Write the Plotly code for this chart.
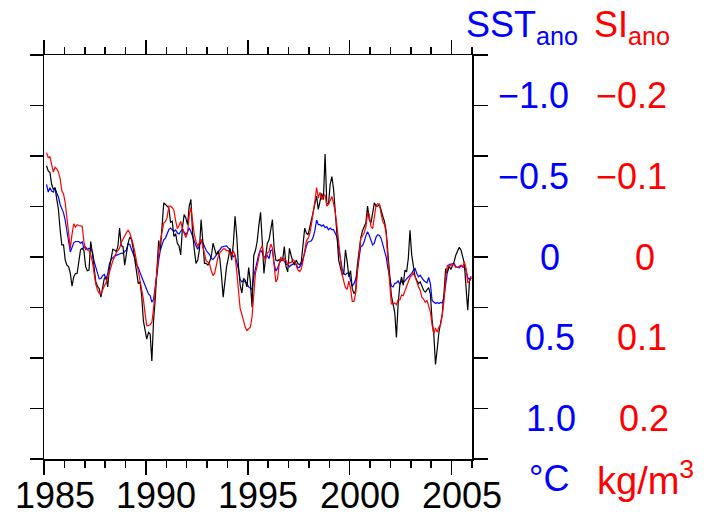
import numpy as np
import plotly.graph_objects as go

# ---------------- data ----------------
start_year = 1985.125          # first monthly sample (mid Feb 1985)
n_months = 251
time = start_year + np.arange(n_months) / 12.0

# SST anomaly (degC), plotted on inverted axis
sst_ano = [
    -0.450, -0.402, -0.429, -0.408, -0.402, -0.427, -0.396, -0.371, -0.325, -0.300,
    -0.273, -0.227, -0.173, -0.096, -0.031, -0.060, -0.088, -0.096, -0.096, -0.096,
    -0.085, -0.094, -0.054, -0.063, -0.046, -0.054, -0.048, -0.033, 0.027, 0.069,
    0.108, 0.135, 0.133, 0.115, 0.108, 0.138, 0.104, 0.044, 0.015, 0.004,
    -0.004, -0.010, -0.015, -0.021, -0.023, -0.023, -0.031, -0.044, -0.081, -0.077,
    -0.048, -0.021, 0.008, 0.048, 0.065, 0.096, 0.123, 0.148, 0.179, 0.208,
    0.229, 0.238,
    0.279, 0.263, 0.196, 0.108, 0.023, -0.042, -0.075, -0.106, -0.117, -0.148,
    -0.169, -0.179, -0.169, -0.158, -0.167, -0.148, -0.142, -0.163, -0.175, -0.154,
    -0.140, -0.156, -0.179, -0.158, -0.123, -0.098, -0.069, -0.048, -0.079, -0.096,
    -0.090, -0.060, -0.040, -0.027, -0.015, 0.010, 0.015, 0.002, -0.015, -0.029,
    -0.044, -0.060, -0.065, -0.065, -0.069, -0.056, -0.046, -0.019, -0.002, -0.010,
    0.033, 0.077, 0.140, 0.154, 0.144, 0.154, 0.165, 0.185, 0.196, 0.202,
    0.120, 0.073, 0.031, -0.019, -0.042, -0.027, -0.002, 0.002, -0.008, 0.010,
    -0.040, -0.044, 0.040, 0.088, 0.069, 0.044, 0.015, 0.008, 0.031, 0.046,
    0.044, 0.060, 0.050, 0.046, 0.035, 0.044, 0.067, 0.063, 0.046, 0.015,
    -0.025, -0.069, -0.094, -0.096, -0.100, -0.123, -0.165, -0.229, -0.200, -0.200,
    -0.190, -0.198, -0.181, -0.188, -0.169, -0.179, -0.169, -0.169, -0.148, -0.123,
    -0.056, 0.021, 0.071, 0.104, 0.110, 0.100, 0.098, 0.144, 0.181, 0.165,
    0.138, 0.080,
    0.000, -0.065, -0.069, -0.094, -0.131, -0.156, -0.135, -0.104, -0.075, -0.085,
    -0.123, -0.138, -0.133, -0.115, -0.081, -0.040, 0.002, 0.071, 0.140, 0.179,
    0.185, 0.163, 0.160, 0.148, 0.169, 0.150, 0.160, 0.146, 0.135, 0.123,
    0.113, 0.102, 0.081, 0.071, 0.102, 0.123, 0.113, 0.133, 0.144, 0.154,
    0.160, 0.127, 0.165, 0.269, 0.279, 0.288, 0.281, 0.288, 0.281, 0.285,
    0.248, 0.150, 0.092, 0.046, 0.044, 0.044, 0.040, 0.060, 0.065, 0.067,
    0.056, 0.056, 0.067, 0.081, 0.127, 0.140, 0.119,
]

# third (black) series, on the SST scale
black_ano = [
    -0.565, -0.533, -0.523, -0.450, -0.419, -0.429, -0.360, -0.294, -0.169, -0.075,
    -0.075, 0.019, 0.050, 0.060, 0.102, 0.181, 0.123, 0.102, 0.102, 0.040,
    -0.044, -0.054, -0.040, 0.060, 0.085, 0.081, -0.096, -0.023, 0.081, 0.154,
    0.181, 0.196, 0.248, 0.175, 0.133, 0.123, 0.185, 0.071, 0.008, -0.048,
    -0.044, -0.033, -0.065, -0.179, -0.069, -0.065, 0.050, -0.023, -0.085, -0.123,
    -0.110, -0.054, 0.019, 0.085, 0.165, 0.154, 0.238, 0.394, 0.467, 0.508,
    0.467, 0.477,
    0.644, 0.394, 0.258, 0.071, -0.102, -0.044, -0.190, -0.335, -0.325, -0.315,
    -0.304, -0.215, -0.221, -0.127, -0.144, -0.085, -0.069, -0.013, -0.179, -0.263,
    -0.242, -0.200, -0.315, -0.356, -0.148, -0.044, 0.040, 0.019, -0.044, -0.231,
    -0.096, 0.040, 0.040, 0.050, 0.029, -0.002, -0.085, -0.044, -0.013, -0.038,
    0.008, 0.113, 0.248, 0.154, 0.060, 0.008, -0.054, 0.019, -0.085, -0.252,
    -0.127, 0.056, 0.175, 0.223, 0.133, 0.144, 0.185, 0.065, 0.154, 0.310,
    -0.010, -0.040, -0.096, -0.194, -0.277, -0.096, 0.102, -0.002, -0.085, -0.106,
    -0.169, -0.231, -0.054, 0.019, 0.023, 0.015, 0.023, 0.019, -0.065, 0.060,
    0.092, -0.054, -0.010, 0.029, 0.050, 0.019, 0.042, 0.048, 0.029, -0.065,
    -0.179, -0.148, -0.138, -0.185, -0.227, -0.279, -0.331, -0.377, -0.294, -0.356,
    -0.394, -0.356, -0.638, -0.335, -0.325, -0.450, -0.498, -0.419, -0.294, -0.138,
    0.019, 0.060, 0.106, 0.102, -0.044, 0.029, 0.123, 0.085, 0.196, 0.227,
    0.206, 0.050,
    -0.044, -0.117, -0.163, -0.185, -0.210, -0.315, -0.231, -0.210, -0.263, -0.335,
    -0.315, -0.315, -0.325, -0.283, -0.252, -0.219, -0.158, -0.023, 0.123, 0.238,
    0.290, 0.342, 0.498, 0.290, 0.175, 0.123, 0.175, 0.081, 0.092, 0.008,
    -0.165, -0.013, 0.056, 0.123, 0.144, 0.165, 0.154, 0.185, 0.206, 0.217,
    0.206, 0.190, 0.231, 0.394, 0.477, 0.665, 0.571, 0.467, 0.410, 0.352,
    0.227, 0.071, 0.098, 0.056, 0.077, 0.056, 0.029, -0.013, -0.033, -0.060,
    -0.044, 0.008, 0.040, 0.190, 0.330, 0.150, 0.130,
]

# SI anomaly (kg/m3), plotted on inverted right axis
si_ano = [
    -0.129, -0.123, -0.124, -0.115, -0.105, -0.111, -0.109, -0.105, -0.097, -0.082,
    -0.078, -0.067, -0.050, -0.028, -0.011, -0.028, -0.041, -0.037, -0.040, -0.039,
    -0.038, -0.038, -0.019, -0.009, -0.009, -0.008, -0.003, 0.006, 0.020, 0.034,
    0.041, 0.045, 0.046, 0.040, 0.036, 0.032, 0.026, 0.019, 0.012, 0.005,
    -0.001, -0.005, -0.008, -0.011, -0.018, -0.023, -0.026, -0.030, -0.033, -0.030,
    -0.024, -0.016, -0.006, 0.005, 0.017, 0.030, 0.041, 0.052, 0.070, 0.085,
    0.085, 0.084,
    0.081, 0.064, 0.039, 0.013, -0.004, -0.020, -0.034, -0.042, -0.044, -0.049,
    -0.063, -0.063, -0.061, -0.058, -0.045, -0.035, -0.039, -0.044, -0.035, -0.028,
    -0.024, -0.030, -0.051, -0.061, -0.042, -0.028, -0.019, -0.013, -0.018, -0.022,
    -0.013, -0.003, 0.005, 0.006, 0.009, 0.017, 0.023, 0.020, 0.010, 0.000,
    -0.005, -0.008, -0.010, -0.010, -0.008, -0.008, -0.005, -0.001, -0.008, -0.001,
    0.018, 0.040, 0.064, 0.071, 0.079, 0.087, 0.091, 0.089, 0.087, 0.074,
    0.050, 0.020, 0.011, 0.002, -0.010, -0.014, 0.002, 0.003, -0.005, -0.007,
    -0.016, -0.011, 0.014, 0.031, 0.027, 0.008, 0.000, 0.005, 0.002, 0.004,
    0.010, 0.007, 0.007, 0.003, 0.005, 0.012, 0.016, 0.018, 0.015, 0.005,
    -0.007, -0.020, -0.023, -0.029, -0.041, -0.054, -0.069, -0.086, -0.073, -0.080,
    -0.071, -0.075, -0.077, -0.063, -0.065, -0.070, -0.075, -0.066, -0.055, -0.038,
    -0.016, 0.005, 0.021, 0.030, 0.038, 0.040, 0.030, 0.039, 0.055, 0.055,
    0.045, 0.020,
    -0.003, -0.023, -0.026, -0.030, -0.037, -0.054, -0.053, -0.038, -0.035, -0.053,
    -0.064, -0.066, -0.065, -0.053, -0.044, -0.040, -0.028, 0.004, 0.035, 0.058,
    0.058, 0.057, 0.059, 0.053, 0.053, 0.047, 0.048, 0.042, 0.038, 0.031,
    0.025, 0.023, 0.020, 0.024, 0.032, 0.037, 0.041, 0.050, 0.052, 0.056,
    0.054, 0.062, 0.068, 0.084, 0.095, 0.088, 0.093, 0.087, 0.084, 0.072,
    0.054, 0.025, 0.010, 0.012, 0.011, 0.009, 0.010, 0.013, 0.013, 0.012,
    0.010, 0.013, 0.006, 0.014, 0.032, 0.030, 0.025,
]

year_labels = [1985, 1990, 1995, 2000, 2005]
sst_labels = [-1.0, -0.5, 0.0, 0.5, 1.0]
sst_label_text = ["\u22121.0", "\u22120.5", "0", "0.5", "1.0"]
si_labels = [-0.2, -0.1, 0.0, 0.1, 0.2]
si_label_text = ["\u22120.2", "\u22120.1", "0", "0.1", "0.2"]

# ---------------- style ----------------
FONT = "Liberation Sans"
FS = 36
BLUE = "#0000ff"
RED = "#ff0000"
SST_MAX = 1.25
SI_MAX = 0.25

fig = go.Figure()
fig.add_trace(go.Scatter(x=time, y=si_ano, mode="lines", yaxis="y2",
                         line=dict(color=RED, width=1.2), showlegend=False,
                         hoverinfo="skip"))
fig.add_trace(go.Scatter(x=time, y=sst_ano, mode="lines",
                         line=dict(color=BLUE, width=1.2), showlegend=False,
                         hoverinfo="skip"))
fig.add_trace(go.Scatter(x=time, y=black_ano, mode="lines",
                         line=dict(color="black", width=1.2), showlegend=False,
                         hoverinfo="skip"))
# empty trace that makes the top (mirror) time axis render
fig.add_trace(go.Scatter(x=[1985, 2006], y=[None, None], xaxis="x2",
                         mode="lines", showlegend=False, hoverinfo="skip"))

xaxis_common = dict(
    range=[1985, 2006], showgrid=False, zeroline=False, showline=True,
    linecolor="black", linewidth=1.5, ticks="outside", tick0=1985, dtick=5,
    ticklen=14, tickwidth=1.5, tickcolor="black", showticklabels=False,
    minor=dict(tick0=1985, dtick=1, ticks="outside", ticklen=7, tickwidth=1.5,
               tickcolor="black", showgrid=False),
)

fig.update_layout(
    width=723, height=521,
    margin=dict(l=44, r=251, t=55, b=62, autoexpand=False),
    paper_bgcolor="white", plot_bgcolor="white",
    xaxis=dict(**xaxis_common, side="bottom"),
    xaxis2=dict(**xaxis_common, side="top", overlaying="x", anchor="y"),
    yaxis=dict(range=[SST_MAX, -SST_MAX], showgrid=False, zeroline=False,
               showline=True, linecolor="black", linewidth=1.5,
               ticks="outside", tickvals=list(np.linspace(-SST_MAX, SST_MAX, 9)),
               ticklen=13, tickwidth=1.5, tickcolor="black",
               showticklabels=False),
    yaxis2=dict(range=[SI_MAX, -SI_MAX], overlaying="y", side="right",
                anchor="x", showgrid=False, zeroline=False, showline=True,
                linecolor="black", linewidth=1.5, ticks="outside",
                tickvals=list(np.linspace(-SI_MAX, SI_MAX, 9)),
                ticklen=14, tickwidth=1.5, tickcolor="black",
                showticklabels=False),
    font=dict(family=FONT, size=FS, color="black"),
)

ann = []
for yr in year_labels:
    ann.append(dict(x=yr, y=0, xref="x", yref="paper", text=str(yr),
                    showarrow=False, xanchor="center", yanchor="middle",
                    xshift=10.5, yshift=-36, font=dict(size=FS, color="black")))
sst_xshift = [61, 61, 78, 78, 79]
for v, t, xs in zip(sst_labels, sst_label_text, sst_xshift):
    ann.append(dict(x=1, y=v, xref="paper", yref="y", text=t, showarrow=False,
                    xanchor="center", yanchor="middle", xshift=xs, yshift=0,
                    font=dict(size=FS, color=BLUE)))
si_xshift = [159, 159, 173, 170, 172]
for v, t, xs in zip(si_labels, si_label_text, si_xshift):
    ann.append(dict(x=1, y=v, xref="paper", yref="y2", text=t, showarrow=False,
                    xanchor="center", yanchor="middle", xshift=xs, yshift=0,
                    font=dict(size=FS, color=RED)))
# titles
ann.append(dict(x=1, y=1, xref="paper", yref="paper", text="SST<sub>ano</sub>",
                showarrow=False, xanchor="right", yanchor="middle",
                xshift=108, yshift=28, font=dict(size=FS, color=BLUE)))
ann.append(dict(x=1, y=1, xref="paper", yref="paper", text="SI<sub>ano</sub>",
                showarrow=False, xanchor="left", yanchor="middle",
                xshift=120, yshift=28, font=dict(size=FS, color=RED)))
# units
ann.append(dict(x=1, y=0, xref="paper", yref="paper", text="\u00b0C",
                showarrow=False, xanchor="center", yanchor="middle",
                xshift=77, yshift=-19, font=dict(size=FS, color=BLUE)))
ann.append(dict(x=1, y=0, xref="paper", yref="paper", text="kg/m<sup>3</sup>",
                showarrow=False, xanchor="center", yanchor="middle",
                xshift=173, yshift=-19, font=dict(size=38, color=RED)))
fig.update_layout(annotations=ann)

fig.write_html("out.html",
               config={"displayModeBar": False, "staticPlot": True},
               post_script="document.body.style.margin='0';"
                           "document.body.style.overflow='hidden';")
